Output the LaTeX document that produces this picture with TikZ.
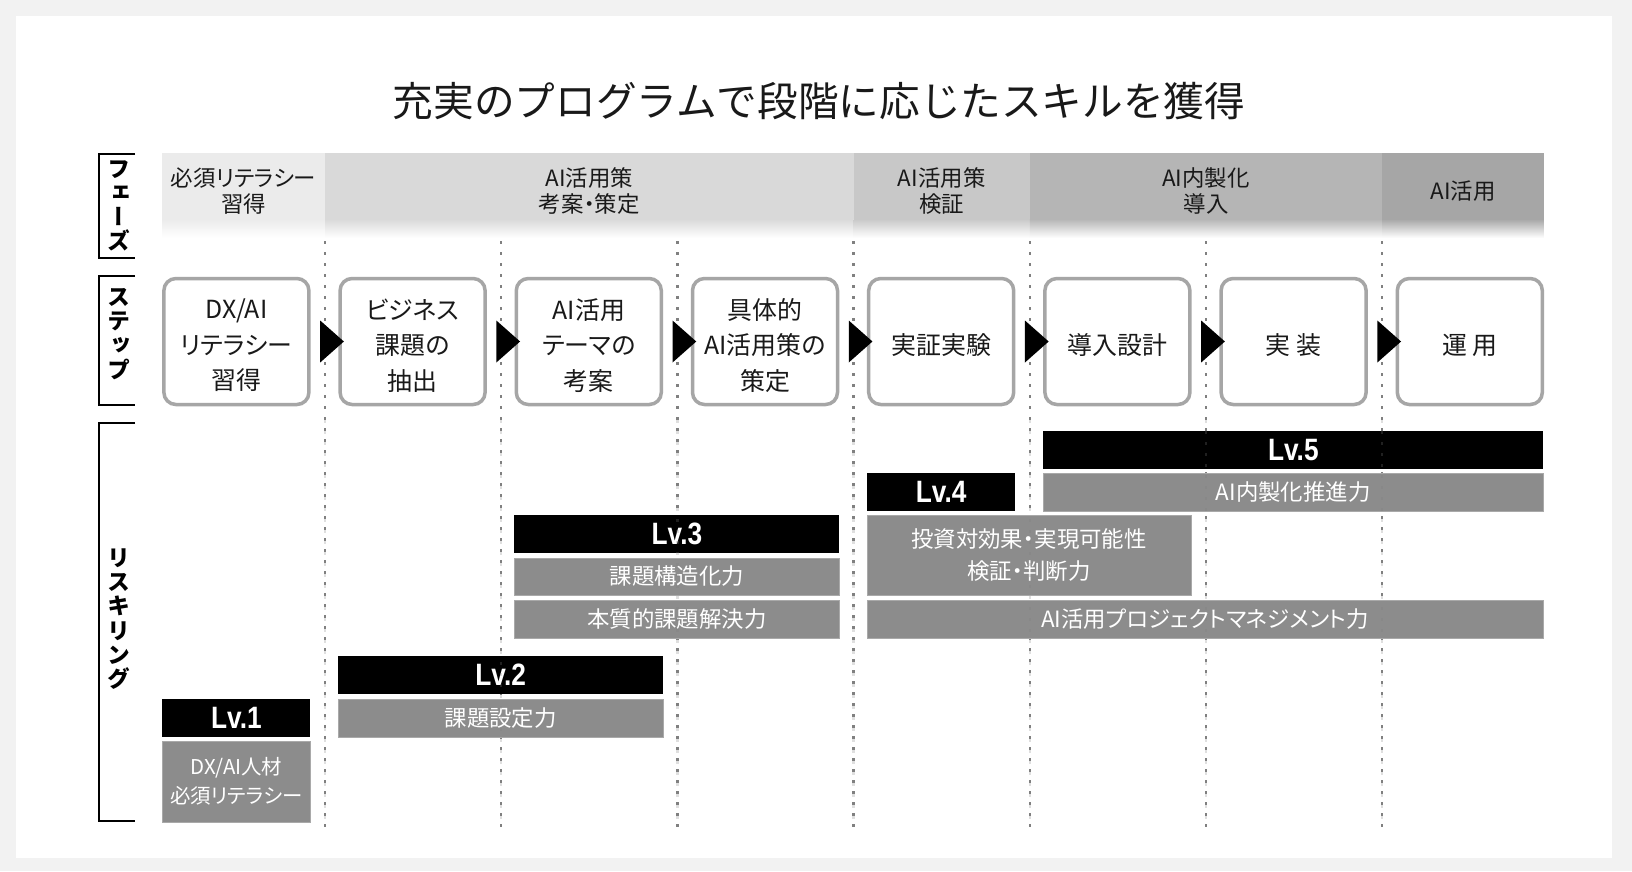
\documentclass[tikz,border=0pt]{standalone}
\usepackage{fontspec}
\usetikzlibrary{calc}

\newfontfamily\jpfont[RawFeature=+palt]{Noto Sans CJK JP}
\newfontfamily\titlefont{Noto Sans CJK JP}
\newfontfamily\vertfont[RawFeature=+vert]{Noto Sans CJK JP}
\newfontfamily\lvfont[FakeStretch=0.85]{Liberation Sans}

\definecolor{FrameGray}{HTML}{F2F2F2}
\definecolor{PhaseA}{HTML}{EBEBEB}
\definecolor{PhaseB}{HTML}{D9D9D9}
\definecolor{PhaseC}{HTML}{C8C8C8}
\definecolor{PhaseD}{HTML}{B5B5B5}
\definecolor{PhaseE}{HTML}{A6A6A6}
\definecolor{StepGray}{HTML}{A6A6A6}
\definecolor{SkillGray}{HTML}{8C8C8C}
\definecolor{DotGray}{HTML}{808080}

\tikzset{
  titletext/.style={font=\titlefont\fontsize{40.8}{41}\selectfont, text=black!90},
  phasetext/.style={font=\jpfont\fontsize{22.5}{26}\selectfont, align=center, text=black!90},
  sidelabel/.style={font=\vertfont\bfseries\fontsize{23}{24.3}\selectfont, align=center, inner sep=0pt},
  stepbox/.style={draw=StepGray, line width=3.5bp, rounded corners=12bp, fill=white,
    minimum width=145bp, minimum height=126bp, inner sep=0pt},
  steptext/.style={font=\jpfont\fontsize{25}{35.5}\selectfont, align=center, text=black!90,
    inner sep=0pt, yshift=-4bp},
  lvbar/.style={fill=black, text=white, inner sep=0pt, minimum height=38bp,
    font=\lvfont\bfseries\fontsize{31}{31}\selectfont},
  skillbar/.style={fill=SkillGray, draw=SkillGray!75!white, line width=0.8bp, text=white,
    inner sep=0pt, align=center, font=\jpfont\fontsize{22.5}{32}\selectfont},
  gridline/.style={DotGray, line width=2.5bp, dash pattern=on 2.5bp off 8.5bp},
  bracket/.style={line width=2.5bp, black}
}

\begin{document}
\begin{tikzpicture}[x=1bp,y=-1bp]
	\useasboundingbox (0,0) rectangle (1632,871);
	\fill[FrameGray] (0,0) rectangle (1632,871);
	\fill[white] (16,16) rectangle (1612,858);
	
	\node[titletext] (title) at (819,101) {充実のプログラムで段階に応じたスキルを獲得};
	
	% phase band
	\fill[PhaseA] (162,153) rectangle (325,219);
	\fill[PhaseB] (325,153) rectangle (853.6,219);
	\fill[PhaseC] (853.6,153) rectangle (1029.8,219);
	\fill[PhaseD] (1029.8,153) rectangle (1382.2,219);
	\fill[PhaseE] (1382.2,153) rectangle (1543.8,219);
	\shade[top color=PhaseA, bottom color=white] (162,219) rectangle (325,238);
	\shade[top color=PhaseB, bottom color=white] (325,219) rectangle (853.6,238);
	\shade[top color=PhaseC, bottom color=white] (853.6,219) rectangle (1029.8,238);
	\shade[top color=PhaseD, bottom color=white] (1029.8,219) rectangle (1382.2,238);
	\shade[top color=PhaseE, bottom color=white] (1382.2,219) rectangle (1543.8,238);
	
	\node[phasetext] (ph1) at (243.5,191) {必須リテラシー\\習得};
	\node[phasetext] (ph2) at (589.3,191) {AI活用策\\考案・策定};
	\node[phasetext] (ph3) at (941.7,191) {AI活用策\\検証};
	\node[phasetext] (ph4) at (1206,191) {AI内製化\\導入};
	\node[phasetext] (ph5) at (1463,191) {AI活用};
	
	% dotted grid
	\draw[gridline] (325,241) -- (325,827);
	\draw[gridline] (501.2,241) -- (501.2,827);
	\draw[gridline] (677.4,241) -- (677.4,827);
	\draw[gridline] (853.6,241) -- (853.6,827);
	\draw[gridline] (1029.8,241) -- (1029.8,827);
	\draw[gridline] (1206,241) -- (1206,827);
	\draw[gridline] (1382.2,241) -- (1382.2,827);
	
	% side brackets
	\draw[bracket] (135,154) -- (99,154) -- (99,258) -- (135,258);
	\draw[bracket] (135,276) -- (99,276) -- (99,405) -- (135,405);
	\draw[bracket] (135,423) -- (99,423) -- (99,821) -- (135,821);
	\node[sidelabel] (phaselbl) at (119,206) {フ\\ェ\\ー\\ズ};
	\node[sidelabel] (steplbl) at (119,334) {ス\\テ\\ッ\\プ};
	\node[sidelabel] (reskilllbl) at (119,619) {リ\\ス\\キ\\リ\\ン\\グ};
	
	% steps
	\node[stepbox, label={[steptext]center:{DX/AI\\リテラシー\\習得}}] (st1) at (236.4,341.5) {};
	\node[stepbox, label={[steptext]center:{ビジネス\\課題の\\抽出}}] (st2) at (412.6,341.5) {};
	\node[stepbox, label={[steptext]center:{AI活用\\テーマの\\考案}}] (st3) at (588.8,341.5) {};
	\node[stepbox, label={[steptext]center:{具体的\\AI活用策の\\策定}}] (st4) at (765,341.5) {};
	\node[stepbox, label={[steptext]center:{実証実験}}] (st5) at (941.2,341.5) {};
	\node[stepbox, label={[steptext]center:{導入設計}}] (st6) at (1117.4,341.5) {};
	\node[stepbox, label={[steptext]center:{実\ 装}}] (st7) at (1293.6,341.5) {};
	\node[stepbox, label={[steptext]center:{運\ 用}}] (st8) at (1469.8,341.5) {};
	
	\fill ($(st1.east)+(9.5,-21)$) -- ($(st2.west)+(5.5,0)$) -- ($(st1.east)+(9.5,21)$) -- cycle;
	\fill ($(st2.east)+(9.5,-21)$) -- ($(st3.west)+(5.5,0)$) -- ($(st2.east)+(9.5,21)$) -- cycle;
	\fill ($(st3.east)+(9.5,-21)$) -- ($(st4.west)+(5.5,0)$) -- ($(st3.east)+(9.5,21)$) -- cycle;
	\fill ($(st4.east)+(9.5,-21)$) -- ($(st5.west)+(5.5,0)$) -- ($(st4.east)+(9.5,21)$) -- cycle;
	\fill ($(st5.east)+(9.5,-21)$) -- ($(st6.west)+(5.5,0)$) -- ($(st5.east)+(9.5,21)$) -- cycle;
	\fill ($(st6.east)+(9.5,-21)$) -- ($(st7.west)+(5.5,0)$) -- ($(st6.east)+(9.5,21)$) -- cycle;
	\fill ($(st7.east)+(9.5,-21)$) -- ($(st8.west)+(5.5,0)$) -- ($(st7.east)+(9.5,21)$) -- cycle;
	
	% reskilling levels
	\node[lvbar, minimum width=148bp] (lv1) at (236.4,718) {Lv.1};
	\node[skillbar, minimum width=148bp, minimum height=81bp, font=\jpfont\fontsize{20.5}{29}\selectfont] (sk1) at (236.4,781.5) {DX/AI人材\\必須リテラシー};
	
	\node[lvbar, minimum width=325bp] (lv2) at (500.7,675) {Lv.2};
	\node[skillbar, minimum width=325bp, minimum height=38bp] (sk2) at (500.7,718) {課題設定力};
	
	\node[lvbar, minimum width=325bp] (lv3) at (676.9,534) {Lv.3};
	\node[skillbar, minimum width=325bp, minimum height=37bp] (sk3a) at (676.9,576.5) {課題構造化力};
	\node[skillbar, minimum width=325bp, minimum height=38bp] (sk3b) at (676.9,619) {本質的課題解決力};
	
	\node[lvbar, minimum width=148bp] (lv4) at (941.2,492) {Lv.4};
	\node[skillbar, minimum width=324bp, minimum height=80bp] (sk4a) at (1029,555) {投資対効果・実現可能性\\検証・判断力};
	\node[skillbar, minimum width=676bp, minimum height=38bp] (sk4b) at (1205,619) {AI活用プロジェクトマネジメント力};
	
	\node[lvbar, minimum width=500bp] (lv5) at (1293.3,450) {Lv.5};
	\node[skillbar, minimum width=500bp, minimum height=38bp] (sk5) at (1293.3,492) {AI内製化推進力};
	
	% grid shows faintly through the bars
	\draw[gridline, opacity=0.25] (325,420) -- (325,827);
	\draw[gridline, opacity=0.25] (501.2,420) -- (501.2,827);
	\draw[gridline, opacity=0.25] (677.4,420) -- (677.4,827);
	\draw[gridline, opacity=0.25] (853.6,420) -- (853.6,827);
	\draw[gridline, opacity=0.25] (1029.8,420) -- (1029.8,827);
	\draw[gridline, opacity=0.25] (1206,420) -- (1206,827);
	\draw[gridline, opacity=0.25] (1382.2,420) -- (1382.2,827);
	
\end{tikzpicture}
\end{document}
